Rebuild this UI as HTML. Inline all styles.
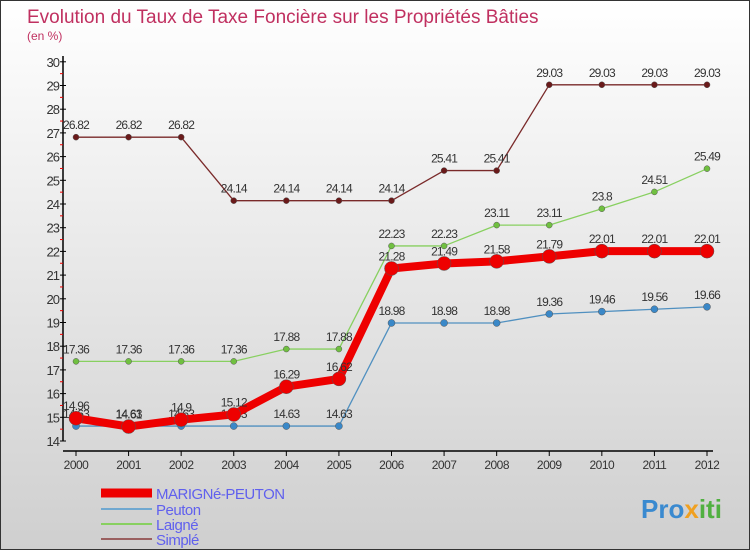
<!DOCTYPE html>
<html><head><meta charset="utf-8"><style>
body{margin:0}
#c{width:748px;height:548px;border:1px solid #333;background:linear-gradient(#fff,#cfcfcf);position:relative;overflow:hidden;font-family:"Liberation Sans",sans-serif}
svg{position:absolute;left:0;top:0}
</style></head><body>
<div id="c">
<svg id="s" width="750" height="550">
<text x="26" y="22" font-size="19" fill="#c03060">Evolution du Taux de Taxe Foncière sur les Propriétés Bâties</text>
<text x="26" y="39" font-size="12" fill="#c03060">(en %)</text>
<text x="640" y="517" font-size="26" font-weight="bold" fill="#3a8ad0">Pro<tspan fill="#f0a020">x</tspan><tspan fill="#50b040">iti</tspan></text>
</svg>
</div>
<script>
const years=[2000,2001,2002,2003,2004,2005,2006,2007,2008,2009,2010,2011,2012];
const marigne=[14.96,14.61,14.9,15.12,16.29,16.62,21.28,21.49,21.58,21.79,22.01,22.01,22.01];
const peuton=[14.63,14.63,14.63,14.63,14.63,14.63,18.98,18.98,18.98,19.36,19.46,19.56,19.66];
const laigne=[17.36,17.36,17.36,17.36,17.88,17.88,22.23,22.23,23.11,23.11,23.8,24.51,25.49];
const simple=[26.82,26.82,26.82,24.14,24.14,24.14,24.14,25.41,25.41,29.03,29.03,29.03,29.03];
const yTicks=[14,15,16,17,18,19,20,21,22,23,24,25,26,27,28,29,30];
const seriesNames=["MARIGNé-PEUTON","Peuton","Laigné","Simplé"];
const NS="http://www.w3.org/2000/svg";
const s=document.getElementById('s');
const X=i=>75+(706-75)*i/(years.length-1);
const Y=v=>440-(v-14)*(440-60.8)/16;
function el(t,a){const e=document.createElementNS(NS,t);for(const k in a)e.setAttribute(k,a[k]);s.appendChild(e);return e;}
let e;
e=el('line',{x1:62,y1:55,x2:62,y2:440,stroke:'#000','stroke-width':1.5});


e=el('line',{x1:62,y1:450,x2:712,y2:450,stroke:'#000','stroke-width':1.5});


yTicks.forEach(v=>{
 el('line',{x1:59,y1:Y(v),x2:65,y2:Y(v),stroke:'#000'});
 if(v<30)el('line',{x1:59,y1:Y(v+0.5),x2:62,y2:Y(v+0.5),stroke:'#e00'});
 e=el('text',{x:58,y:Y(v)+5,'text-anchor':'end','font-size':13,fill:'#333','letter-spacing':'-1'});
 e.textContent=v;
 
 
});
years.forEach((y,i)=>{
 el('line',{x1:X(i),y1:450,x2:X(i),y2:455,stroke:'#000'});
 e=el('text',{x:X(i),y:468,'text-anchor':'middle','font-size':12,fill:'#333','letter-spacing':'-0.5'});
 e.textContent=y;
 
 
});
function series(d,col,w,r,dot,name){
 e=el('polyline',{points:d.map((v,i)=>X(i)+','+Y(v)).join(' '),fill:'none',stroke:col,'stroke-width':w,'stroke-linejoin':'round'});
 
 
 d.forEach((v,i)=>{
  e=el('circle',{cx:X(i),cy:Y(v),r:r,fill:dot,stroke:'#555','stroke-width':0.5});
  
  
  e=el('text',{x:X(i),y:Y(v)-8,'text-anchor':'middle','font-size':12,fill:'#333','letter-spacing':'-0.8'});
  e.textContent=String(v).replace(/^(\d+)\.0?/,'$1.').replace(/\.$/,'');
  e.textContent=String(v);
  
  
 });
}
series(simple,'#7a2a2a',1.3,3,'#6a1a1a','simple');
series(laigne,'#88d060',1.3,3,'#70c040','laigne');
series(peuton,'#5090c0',1.3,3.5,'#3a88c8','peuton');
series(marigne,'#ee0000',8,7,'#ee0000','marigne-peuton');
const legCols=['#ee0000','#70a8d0','#88d060','#9a6060'],legW=[9,2,2,2];
seriesNames.forEach((n,i)=>{
 const ly=[493,509,524,539][i];
 e=el('line',{x1:100,y1:ly-1,x2:151,y2:ly-1,stroke:legCols[i],'stroke-width':legW[i]});
 
 
 e=el('text',{x:155,y:ly+5,'font-size':15,fill:'#6060ee','letter-spacing':'-0.5'});
 e.textContent=n;
 
 
});
</script>
</body></html>
